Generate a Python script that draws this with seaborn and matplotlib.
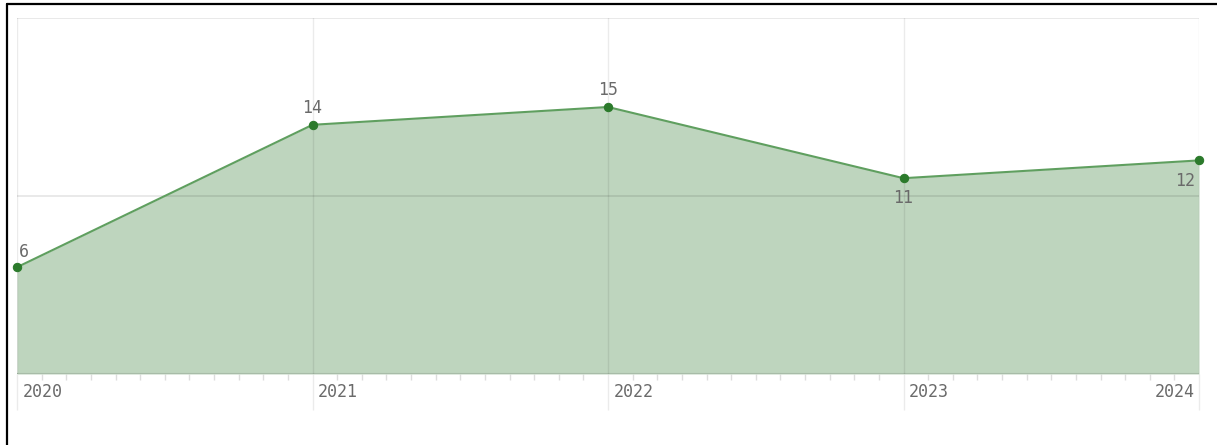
import seaborn as sns
import matplotlib.pyplot as plt
import numpy as np
import pandas as pd
from matplotlib.lines import Line2D

years = [2020, 2021, 2022, 2023, 2024]
values = [6, 14, 15, 11, 12]
year_labels = ["2020", "2021", "2022", "2023", "2024"]

sns.set_style("white")
plt.rcParams["font.family"] = ["DejaVu Sans Mono", "DejaVu Sans"]

fig = plt.figure(figsize=(12.17, 4.45), dpi=100)
ax = fig.add_axes([17 / 1217, 1 - 374 / 445, (1199 - 17) / 1217, (374 - 18) / 445])

df = pd.DataFrame({"year": years, "value": values})
ax.fill_between(df["year"], df["value"], 0, color="#bed5be", lw=0, zorder=1)
sns.lineplot(data=df, x="year", y="value", ax=ax, color="#5f9f5f", lw=1.5,
             marker="o", markersize=6, markerfacecolor="#2b7a2b",
             markeredgecolor="#2b7a2b", zorder=3, clip_on=False)

ax.set_xlim(2020, 2024)
ax.set_ylim(0, 20)
for s in ax.spines.values():
    s.set_visible(False)

# grid: translucent grey so it darkens over the green fill
for y in [10, 20]:
    ax.axhline(y, color="black", alpha=0.1, lw=1.2, zorder=2)
ax.axhline(0, color="#a8bca8", lw=1.5, zorder=2)
for x in years:
    ax.plot([x, x], [0, 20], color="black", alpha=0.08, lw=1, zorder=2)

ax.set_yticks([])
ax.set_xticks(years)
ax.set_xticklabels([])
ax.tick_params(axis="x", which="both", bottom=True)
ax.tick_params(axis="x", which="major", length=26, width=1, color="#ebebeb", pad=0)
minor = [y + m / 12 for y in years[:-1] for m in range(1, 12)]
ax.set_xticks(minor, minor=True)
ax.tick_params(axis="x", which="minor", length=4.5, width=1, color="#dddddd")
ax.set_xlabel("")
ax.set_ylabel("")

fs = 12
for i, (x, lab) in enumerate(zip(years, year_labels)):
    if i == len(years) - 1:
        ax.annotate(lab, (x, 0), xycoords=("data", "axes fraction"), xytext=(-3, -13),
                    textcoords="offset points", ha="right", va="center", fontsize=fs, color="#6a6a6a")
    else:
        ax.annotate(lab, (x, 0), xycoords=("data", "axes fraction"), xytext=(4, -13),
                    textcoords="offset points", ha="left", va="center", fontsize=fs, color="#6a6a6a")

# point labels
offsets = [(1, 11, "left"), (0, 12, "center"), (0, 12, "center"), (0, -14, "center"), (-3, -15, "right")]
for x, v, (dx, dy, ha) in zip(years, values, offsets):
    ax.annotate(str(v), (x, v), xytext=(dx, dy), textcoords="offset points",
                ha=ha, va="center", fontsize=fs, color="#6a6a6a", zorder=4)

# frame lines (top and left)
fig.add_artist(Line2D([7 / 1217, 7 / 1217], [0, 1 - 4 / 445], color="black", lw=1.6))
fig.add_artist(Line2D([7 / 1217, 1], [1 - 4 / 445, 1 - 4 / 445], color="black", lw=1.6))

fig.savefig("out.png", dpi=100)
